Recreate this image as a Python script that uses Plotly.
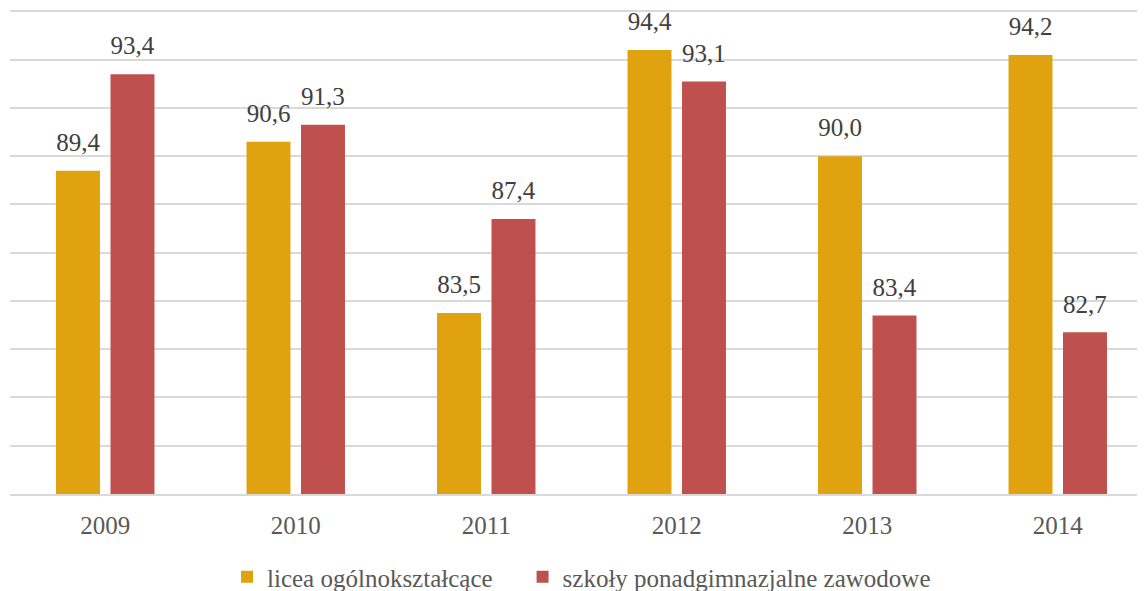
import plotly.graph_objects as go

years = ["2009", "2010", "2011", "2012", "2013", "2014"]
licea = [89.4, 90.6, 83.5, 94.4, 90.0, 94.2]
zawodowe = [93.4, 91.3, 87.4, 93.1, 83.4, 82.7]
names = ["licea ogólnokształcące" + "\u00a0" * 4, "szkoły ponadgimnazjalne zawodowe"]
colors = ["#E0A30F", "#C0504D"]

FONT = "Liberation Serif, Times New Roman, serif"

fig = go.Figure()
for i, (vals, name, col) in enumerate(zip([licea, zawodowe], names, colors)):
    fig.add_trace(go.Bar(x=years, y=vals, name=name, marker_color=col,
                         marker_line_width=0, offsetgroup=str(i)))
for i, vals in enumerate([licea, zawodowe]):
    fig.add_trace(go.Scatter(x=years, y=vals, mode="markers+text",
                             text=[f"{v:.1f}".replace(".", ",") for v in vals],
                             textposition="top center",
                             textfont=dict(family=FONT, size=25, color="#404040"),
                             marker=dict(size=20, opacity=0),
                             offsetgroup=str(i), showlegend=False, hoverinfo="skip",
                             cliponaxis=False))

# page body has an 8px margin, so the figure is shrunk and margins reduced by 8px
fig.update_layout(
    width=1145, height=583,
    margin=dict(l=2, r=0, t=2, b=97),
    paper_bgcolor="white", plot_bgcolor="white",
    barmode="group", bargap=0.428, bargroupgap=0.193,
    scattermode="group", scattergap=0.428,
    font=dict(family=FONT, color="#595959"),
    showlegend=True,
    legend=dict(orientation="h", x=0.5, xanchor="center",
                yref="container", y=0.024, yanchor="middle",
                font=dict(size=25, color="#595959"),
                itemwidth=30, tracegroupgap=0),
)
fig.update_xaxes(tickfont=dict(size=25, color="#595959"), showline=True,
                 linecolor="#D9D9D9", linewidth=2, ticks="", showgrid=False,
                 ticklabelstandoff=8)
fig.update_yaxes(range=[76, 96.06], dtick=2, tick0=76, showticklabels=False,
                 showgrid=True, gridcolor="#D9D9D9", gridwidth=2, zeroline=False)

fig.write_html("out.html")
